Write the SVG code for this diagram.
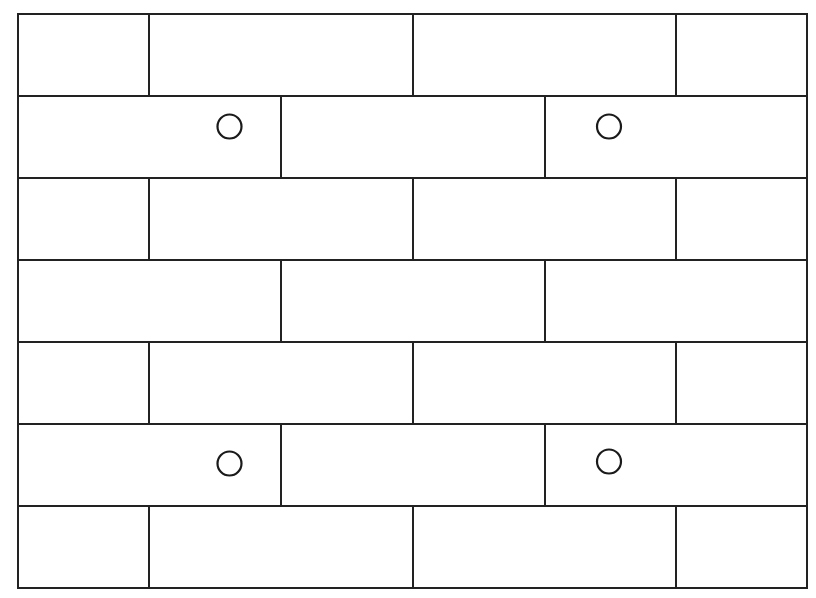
<svg xmlns="http://www.w3.org/2000/svg" width="816" height="598" viewBox="0 0 816 598">
<style>
.l{stroke:#222;stroke-width:2;fill:none}
.c{stroke:#1a1a1a;stroke-width:2.2;fill:none}
</style>
<rect width="816" height="598" fill="#fff"/>
<g id="wall" class="l">
<rect x="18" y="14" width="789" height="574"/>
<path d="M18 96H807M18 178H807M18 260H807M18 342H807M18 424H807M18 506H807"/>
<path d="M149 14V96M413 14V96M676 14V96"/>
<path d="M281 96V178M545 96V178"/>
<path d="M149 178V260M413 178V260M676 178V260"/>
<path d="M281 260V342M545 260V342"/>
<path d="M149 342V424M413 342V424M676 342V424"/>
<path d="M281 424V506M545 424V506"/>
<path d="M149 506V588M413 506V588M676 506V588"/>
</g>
<g id="holes" class="c">
<circle cx="229.5" cy="126.5" r="12"/>
<circle cx="609" cy="126.5" r="12"/>
<circle cx="229.5" cy="463.5" r="12"/>
<circle cx="609" cy="461.5" r="12"/>
</g>
</svg>
